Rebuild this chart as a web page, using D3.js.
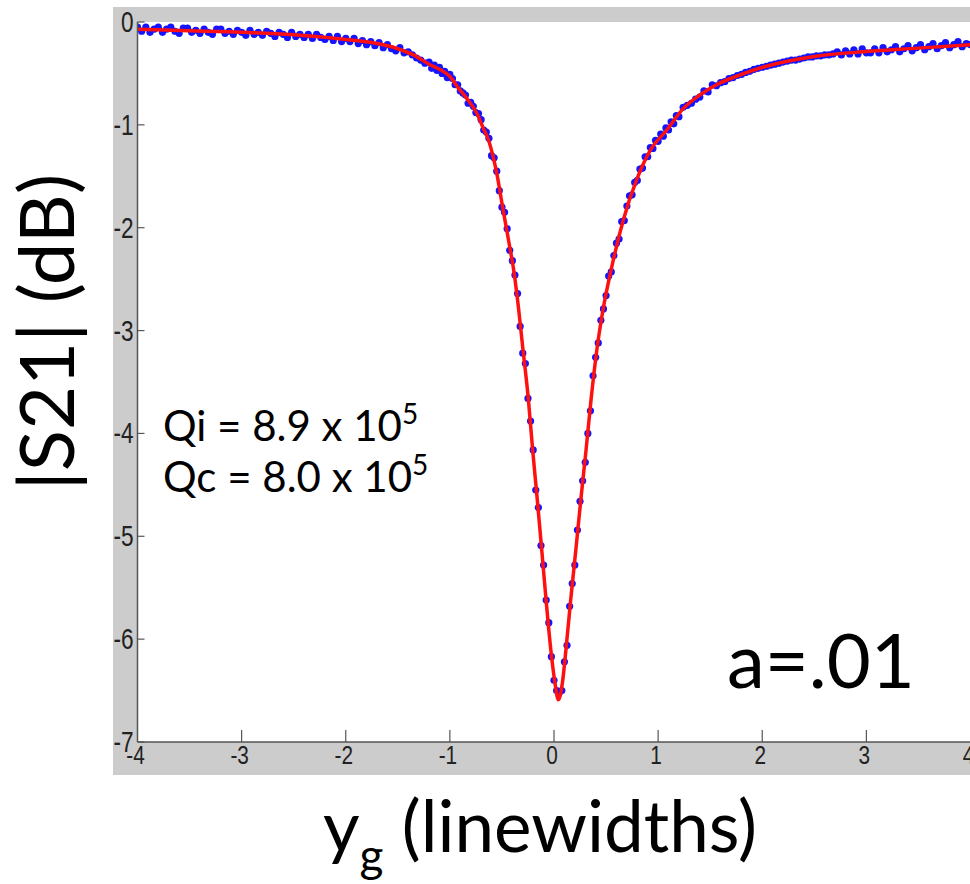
<!DOCTYPE html>
<html>
<head>
<meta charset="utf-8">
<script src="https://cdn.jsdelivr.net/npm/d3@7"></script>
<style>
  html, body { margin: 0; padding: 0; background: #ffffff; }
  svg { display: block; }
</style>
</head>
<body>
<svg id="chart" width="970" height="884"></svg>
<script>
// ---- data ----
const xTicks = [-4, -3, -2, -1, 0, 1, 2, 3, 4];
const yTicks = [0, -1, -2, -3, -4, -5, -6, -7];

// fitted curve (red)
const fitX = [-4.00, -3.50, -3.00, -2.50, -2.00, -1.75, -1.50, -1.35, -1.20, -1.10, -1.00, -0.92, -0.84, -0.74, -0.68, -0.63, -0.55, -0.495, -0.437, -0.383, -0.342, -0.305, -0.246, -0.205, -0.16, -0.118, -0.076, -0.031, 0.01, 0.042, 0.08, 0.115, 0.16, 0.21, 0.257, 0.308, 0.356, 0.411, 0.46, 0.555, 0.667, 0.795, 0.923, 1.083, 1.243, 1.40, 1.56, 1.80, 2.04, 2.50, 3.00, 3.50, 4.00];
const fitY = [-0.07, -0.085, -0.10, -0.125, -0.17, -0.20, -0.26, -0.32, -0.41, -0.46, -0.53, -0.64, -0.74, -0.89, -1.03, -1.145, -1.47, -1.79, -2.12, -2.44, -2.77, -3.12, -3.67, -4.16, -4.65, -5.13, -5.62, -6.10, -6.43, -6.59, -6.43, -6.10, -5.62, -5.13, -4.65, -4.16, -3.67, -3.19, -2.86, -2.38, -1.92, -1.53, -1.25, -1.05, -0.84, -0.71, -0.61, -0.51, -0.43, -0.335, -0.287, -0.254, -0.22];

// measured points (blue)
const dotX = [
 -4.00,-3.96,-3.92,-3.88,-3.84,-3.80,-3.76,-3.72,-3.68,-3.64,-3.60,-3.56,-3.52,-3.48,-3.44,-3.40,-3.36,-3.32,-3.28,-3.24,
 -3.20,-3.16,-3.12,-3.08,-3.04,-3.00,-2.96,-2.92,-2.88,-2.84,-2.80,-2.76,-2.72,-2.68,-2.64,-2.60,-2.56,-2.52,-2.48,-2.44,
 -2.40,-2.36,-2.32,-2.28,-2.24,-2.20,-2.16,-2.12,-2.08,-2.04,-2.00,-1.96,-1.92,-1.88,-1.84,-1.80,-1.76,-1.72,-1.68,-1.64,
 -1.60,-1.56,-1.52,-1.48,-1.44,-1.40,-1.36,-1.32,-1.28,-1.24,
 -1.200,-1.175,-1.150,-1.125,-1.100,-1.075,-1.050,-1.025,-1.000,-0.975,-0.950,-0.925,-0.900,-0.875,-0.850,-0.825,-0.800,-0.775,-0.750,-0.725,
 -0.700,-0.675,-0.650,-0.625,-0.600,-0.575,-0.550,-0.525,-0.500,-0.475,-0.450,-0.425,-0.400,-0.375,-0.350,-0.325,-0.300,-0.275,-0.250,-0.225,
 -0.200,-0.175,-0.150,-0.125,-0.100,-0.075,-0.050,-0.025,0.000,0.025,0.050,0.075,0.100,0.125,0.150,0.175,0.200,0.225,0.250,0.275,
 0.300,0.325,0.350,0.375,0.400,0.425,0.450,0.475,0.500,0.525,0.550,0.575,0.600,0.625,0.650,0.675,0.700,0.725,0.750,0.775,
 0.800,0.825,0.850,0.875,0.900,0.925,0.950,0.975,1.000,1.025,1.050,1.075,1.100,1.125,1.150,1.175,1.200,
 1.24,1.28,1.32,1.36,1.40,1.44,1.48,1.52,1.56,1.60,1.64,1.68,1.72,1.76,1.80,1.84,1.88,1.92,1.96,2.00,
 2.04,2.08,2.12,2.16,2.20,2.24,2.28,2.32,2.36,2.40,2.44,2.48,2.52,2.56,2.60,2.64,2.68,2.72,2.76,2.80,
 2.84,2.88,2.92,2.96,3.00,3.04,3.08,3.12,3.16,3.20,3.24,3.28,3.32,3.36,3.40,3.44,3.48,3.52,3.56,3.60,
 3.64,3.68,3.72,3.76,3.80,3.84,3.88,3.92,3.96,4.00
];
const dotY = [
 -0.05,-0.09,-0.05,-0.10,-0.07,-0.05,-0.10,-0.07,-0.05,-0.09,-0.11,-0.06,-0.06,-0.10,-0.08,-0.11,-0.07,-0.10,-0.12,-0.07,
 -0.07,-0.11,-0.09,-0.12,-0.08,-0.10,-0.13,-0.08,-0.12,-0.10,-0.13,-0.09,-0.11,-0.14,-0.10,-0.12,-0.15,-0.10,-0.14,-0.12,
 -0.15,-0.12,-0.16,-0.12,-0.15,-0.17,-0.14,-0.18,-0.14,-0.19,-0.16,-0.19,-0.16,-0.21,-0.18,-0.22,-0.19,-0.23,-0.20,-0.25,
 -0.22,-0.26,-0.28,-0.25,-0.30,-0.29,-0.32,-0.35,-0.37,-0.40,
 -0.39,-0.45,-0.42,-0.47,-0.44,-0.50,-0.48,-0.54,-0.51,-0.55,-0.61,-0.61,-0.67,-0.69,-0.71,-0.79,-0.78,-0.82,-0.88,-0.89,
 -0.95,-1.05,-1.07,-1.13,-1.30,-1.32,-1.45,-1.64,-1.80,-1.85,-2.01,-2.22,-2.32,-2.46,-2.64,-2.96,-3.22,-3.32,-3.66,-3.88,
 -4.16,-4.55,-4.72,-5.09,-5.28,-5.62,-5.84,-6.17,-6.40,-6.50,-6.52,-6.50,-6.22,-6.06,-5.68,-5.46,-5.28,-4.94,-4.66,-4.46,
 -4.28,-4.00,-3.78,-3.44,-3.26,-3.12,-2.90,-2.79,-2.66,-2.47,-2.43,-2.27,-2.15,-2.11,-1.94,-1.93,-1.79,-1.69,-1.68,-1.56,
 -1.54,-1.43,-1.42,-1.31,-1.31,-1.22,-1.23,-1.15,-1.16,-1.09,-1.11,-1.03,-1.05,-0.97,-0.99,-0.91,-0.92,
 -0.83,-0.81,-0.79,-0.75,-0.73,-0.67,-0.68,-0.61,-0.62,-0.59,-0.58,-0.55,-0.54,-0.52,-0.51,-0.49,-0.48,-0.46,-0.45,-0.44,
 -0.43,-0.42,-0.41,-0.40,-0.39,-0.38,-0.37,-0.37,-0.36,-0.35,-0.34,-0.34,-0.33,-0.33,-0.32,-0.32,-0.31,-0.29,-0.32,-0.28,
 -0.31,-0.27,-0.31,-0.26,-0.30,-0.30,-0.26,-0.30,-0.25,-0.29,-0.27,-0.24,-0.29,-0.26,-0.23,-0.28,-0.25,-0.22,-0.27,-0.24,
 -0.21,-0.26,-0.23,-0.20,-0.25,-0.22,-0.19,-0.24,-0.21,-0.22
];

// ---- drawing ----
const svg = d3.select("#chart");
const W = 970, H = 884;
const plot = { left: 137.5, right: 970.5, top: 22, bottom: 742 };

const x = d3.scaleLinear().domain([-4, 4]).range([plot.left, plot.right]);
const y = d3.scaleLinear().domain([-7, 0]).range([plot.bottom, plot.top]);

// gray figure background
svg.append("rect").attr("x", 113).attr("y", 7).attr("width", W - 113).attr("height", 768).attr("fill", "#cccccc");
// white axes area
svg.append("rect").attr("x", plot.left).attr("y", plot.top).attr("width", W - plot.left).attr("height", plot.bottom - plot.top).attr("fill", "#ffffff");

// clip
svg.append("clipPath").attr("id", "clip").append("rect")
  .attr("x", plot.left).attr("y", plot.top).attr("width", W - plot.left).attr("height", plot.bottom - plot.top);

const pts = dotX.map((d, i) => [d, dotY[i]]);
const g = svg.append("g").attr("clip-path", "url(#clip)");
g.selectAll("circle").data(pts).enter().append("circle")
  .attr("cx", d => x(d[0])).attr("cy", d => y(d[1])).attr("r", 3.6)
  .attr("fill", "#1414ff");

const fit = fitX.map((d, i) => [d, fitY[i]]);
g.append("path").datum(fit)
  .attr("d", d3.line().x(d => x(d[0])).y(d => y(d[1])).curve(d3.curveMonotoneX))
  .attr("fill", "none").attr("stroke", "#ff1010").attr("stroke-width", 3.5);

// axes lines
const axisColor = "#555555";
svg.append("line").attr("x1", plot.left).attr("x2", plot.left).attr("y1", plot.top).attr("y2", plot.bottom)
  .attr("stroke", axisColor).attr("stroke-width", 1.5);
svg.append("line").attr("x1", plot.left).attr("x2", W).attr("y1", plot.bottom).attr("y2", plot.bottom)
  .attr("stroke", axisColor).attr("stroke-width", 1.5);

// y ticks (inward)
yTicks.forEach(t => {
  svg.append("line").attr("x1", plot.left).attr("x2", plot.left + 7).attr("y1", y(t)).attr("y2", y(t))
    .attr("stroke", axisColor).attr("stroke-width", 1.2);
  svg.append("text").attr("transform", `translate(${plot.left - 4},${y(t)}) scale(0.78,1)`)
    .attr("text-anchor", "end").attr("dominant-baseline", "central")
    .attr("font-family", "Liberation Sans, Arial, sans-serif").attr("font-size", 29).attr("fill", "#222")
    .text(String(t));
});
// x ticks (inward)
xTicks.forEach(t => {
  if (t !== -4 && t !== 4) {
    svg.append("line").attr("x1", x(t)).attr("x2", x(t)).attr("y1", plot.bottom).attr("y2", plot.bottom - 12)
      .attr("stroke", axisColor).attr("stroke-width", 1.2);
  }
  svg.append("text").attr("transform", `translate(${x(t) - 2},${plot.bottom + 22}) scale(0.8,1)`)
    .attr("text-anchor", "middle")
    .attr("font-family", "Liberation Sans, Arial, sans-serif").attr("font-size", 26).attr("fill", "#222")
    .text(String(t));
});

// axis titles
const titleFont = "Lato, 'Open Sans', sans-serif";
svg.append("text").attr("transform", "translate(74,332) rotate(-90)")
  .attr("text-anchor", "middle").attr("font-family", titleFont).attr("font-size", 76).attr("fill", "#000")
  .text("|S21| (dB)");

const xl = svg.append("text").attr("x", 540).attr("y", 852)
  .attr("text-anchor", "middle").attr("font-family", titleFont).attr("font-size", 71).attr("fill", "#000");
xl.append("tspan").text("y");
xl.append("tspan").attr("font-size", 46).attr("dy", 20).text("g");
xl.append("tspan").attr("dy", -20).text(" (linewidths)");

// annotations
const ann = [["Qi = 8.9 x 10", "5", 441], ["Qc = 8.0 x 10", "5", 492]];
ann.forEach(a => {
  const t = svg.append("text").attr("x", 163).attr("y", a[2])
    .attr("font-family", titleFont).attr("font-size", 42).attr("fill", "#000");
  t.append("tspan").text(a[0]);
  t.append("tspan").attr("font-size", 28).attr("dy", -17).text(a[1]);
});
svg.append("text").attr("x", 727).attr("y", 688)
  .attr("font-family", titleFont).attr("font-size", 76).attr("fill", "#000").text("a=.01");
</script>
</body>
</html>
